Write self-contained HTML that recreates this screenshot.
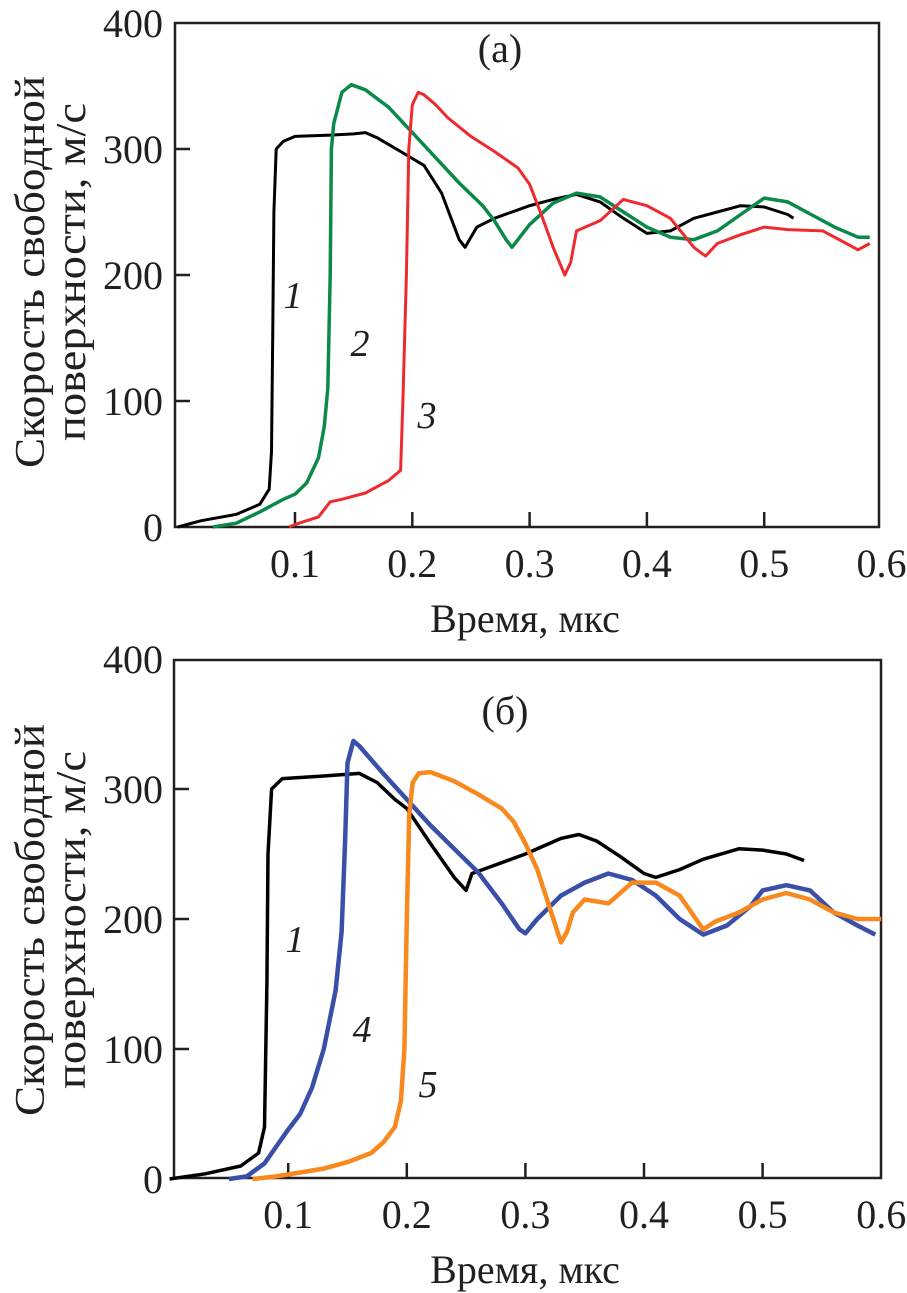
<!DOCTYPE html>
<html><head><meta charset="utf-8"><style>
body{margin:0;background:#fff;width:907px;height:1293px;overflow:hidden}
svg{display:block}
text{font-family:"Liberation Serif",serif;fill:#231f20}
</style></head><body>
<svg id="chart" width="907" height="1293" viewBox="0 0 907 1293" xmlns="http://www.w3.org/2000/svg"></svg>
<script>
const xTicks=[0.1,0.2,0.3,0.4,0.5,0.6];
const xTickLabels=["0.1","0.2","0.3","0.4","0.5","0.6"];
const yTicks=[0,100,200,300,400];
const yTickLabels=["0","100","200","300","400"];
// panel a
const a1T=[0,0.02,0.05,0.07,0.078,0.08,0.081,0.082,0.084,0.09,0.1,0.13,0.15,0.16,0.17,0.19,0.21,0.225,0.24,0.245,0.25,0.255,0.27,0.3,0.32,0.34,0.36,0.38,0.4,0.42,0.44,0.46,0.48,0.5,0.52,0.525];
const a1V=[0,5,10,18,30,60,150,250,300,306,310,311,312,313,309,298,287,265,228,222,230,238,245,255,260,264,258,245,233,235,245,250,255,254,248,245];
const a2T=[0.03,0.05,0.07,0.09,0.1,0.11,0.12,0.125,0.128,0.13,0.131,0.133,0.14,0.148,0.16,0.18,0.2,0.22,0.24,0.26,0.27,0.28,0.285,0.29,0.3,0.32,0.34,0.36,0.38,0.4,0.42,0.44,0.46,0.48,0.5,0.52,0.54,0.56,0.58,0.59];
const a2V=[0,3,12,22,26,35,55,80,110,200,300,320,345,351,347,333,313,293,273,255,243,228,222,228,240,257,265,262,250,238,230,228,235,248,261,258,248,238,230,230];
const a3T=[0.095,0.1,0.11,0.12,0.13,0.14,0.16,0.18,0.19,0.192,0.195,0.197,0.2,0.205,0.21,0.22,0.23,0.25,0.27,0.29,0.3,0.31,0.32,0.33,0.335,0.34,0.36,0.38,0.4,0.42,0.44,0.45,0.46,0.48,0.5,0.52,0.55,0.57,0.58,0.59];
const a3V=[0,2,5,8,20,22,27,37,45,100,200,300,335,345,343,335,325,310,298,285,272,248,222,200,210,235,243,260,255,245,222,215,225,232,238,236,235,225,220,225];
// panel b
const b1T=[0,0.03,0.06,0.075,0.08,0.082,0.083,0.086,0.095,0.13,0.16,0.175,0.19,0.2,0.22,0.24,0.25,0.255,0.27,0.3,0.33,0.345,0.36,0.38,0.4,0.41,0.43,0.45,0.48,0.5,0.52,0.535];
const b1V=[0,4,10,20,40,150,250,300,308,310,312,305,292,285,258,232,222,235,240,250,262,265,260,248,235,232,238,246,254,253,250,245];
const b4T=[0.05,0.065,0.08,0.09,0.1,0.11,0.12,0.13,0.14,0.145,0.148,0.15,0.155,0.16,0.18,0.2,0.22,0.24,0.26,0.28,0.295,0.3,0.31,0.33,0.35,0.37,0.39,0.41,0.43,0.45,0.47,0.49,0.5,0.52,0.54,0.56,0.58,0.595];
const b4V=[0,2,12,25,38,50,70,100,145,190,260,320,337,333,312,292,272,254,236,212,192,189,200,218,228,235,230,218,200,188,195,210,222,226,222,205,195,188];
const b5T=[0.07,0.09,0.11,0.13,0.15,0.17,0.18,0.19,0.195,0.198,0.2,0.202,0.205,0.21,0.22,0.24,0.26,0.28,0.29,0.3,0.31,0.32,0.33,0.335,0.34,0.35,0.37,0.39,0.41,0.43,0.44,0.45,0.46,0.48,0.5,0.52,0.54,0.56,0.58,0.6];
const b5V=[0,2,5,8,13,20,28,40,60,100,200,280,305,312,313,306,296,285,275,258,238,210,182,190,205,215,212,228,228,218,205,192,198,205,215,220,215,205,200,200];

const svg=document.getElementById('chart');
const NS='http://www.w3.org/2000/svg';
function mk(tag,attrs,txt){const e=document.createElementNS(NS,tag);for(const k in attrs)e.setAttribute(k,attrs[k]);if(txt!==undefined)e.textContent=txt;svg.appendChild(e);return e;}

function panel(p){
  const X=t=>p.x0+t*p.xu, Y=v=>p.y0-v*p.yu;
  const box=mk('rect',{x:p.L,y:p.T,width:p.R-p.L,height:p.B-p.T,fill:'none',stroke:'#231f20','stroke-width':2.5});
  
  
  yTicks.forEach((v,i)=>{
    if(v>0&&v<400){const tk=mk('line',{x1:p.L,x2:p.L+15,y1:Y(v),y2:Y(v),stroke:'#231f20','stroke-width':2.5});
    
    }
    const tl=mk('text',{x:163,y:Y(v)+14,'text-anchor':'end','font-size':40},yTickLabels[i]);
    
    
  });
  xTicks.forEach((t,i)=>{
    if(t<0.6){const tk=mk('line',{x1:X(t),x2:X(t),y1:p.B,y2:p.B-15,stroke:'#231f20','stroke-width':2.5});
    
    }
    const tl=mk('text',{x:X(t),y:p.B+50,'text-anchor':'middle','font-size':40},xTickLabels[i]);
    
    
  });
  const xt=mk('text',{x:525,y:p.B+105,'text-anchor':'middle','font-size':40},'Время, мкс');
  
  
  const cy=p.titleC;
  const t1=mk('text',{x:0,y:0,'text-anchor':'middle','font-size':42,transform:`translate(44,${cy}) rotate(-90)`,textLength:392,lengthAdjust:'spacingAndGlyphs'},'Скорость свободной');
  
  
  const t2=mk('text',{x:0,y:0,'text-anchor':'middle','font-size':42,transform:`translate(85,${cy}) rotate(-90)`,textLength:338,lengthAdjust:'spacingAndGlyphs'},'поверхности, м/с');
  
  
  const pl=mk('text',{x:p.labX,y:p.labY,'text-anchor':'middle','font-size':40},p.label);
  
  
  p.series.forEach(s=>{
    const d=s.t.map((t,i)=>(i?'L':'M')+X(t).toFixed(1)+','+Y(s.v[i]).toFixed(1)).join('');
    const ln=mk('path',{d:d,fill:'none',stroke:s.c,'stroke-width':s.w,'stroke-linejoin':'round'});
    
    
    const lb=mk('text',{x:s.lx,y:s.ly,'text-anchor':'middle','font-size':38,'font-style':'italic'},s.n);
    
    
  });
}
panel({id:'panel-a',L:175,R:879,T:23,B:527,x0:177.7,xu:1173,y0:527,yu:1.26,titleC:272,label:'(а)',labX:500,labY:62,
 series:[{t:a1T,v:a1V,c:'#000',w:3,n:'1',lx:293,ly:308},{t:a2T,v:a2V,c:'#0a8a4a',w:3.5,n:'2',lx:360,ly:356},{t:a3T,v:a3V,c:'#ee2a2e',w:3,n:'3',lx:427,ly:428}]});
panel({id:'panel-b',L:174,R:881,T:660,B:1178,x0:169.6,xu:1186,y0:1179,yu:1.3,titleC:920,label:'(б)',labX:505,labY:724,
 series:[{t:b1T,v:b1V,c:'#000',w:3.5,n:'1',lx:295,ly:952},{t:b4T,v:b4V,c:'#3a4fa8',w:4.5,n:'4',lx:362,ly:1042},{t:b5T,v:b5V,c:'#f7891f',w:4.5,n:'5',lx:428,ly:1097}]});
</script>
</body></html>
